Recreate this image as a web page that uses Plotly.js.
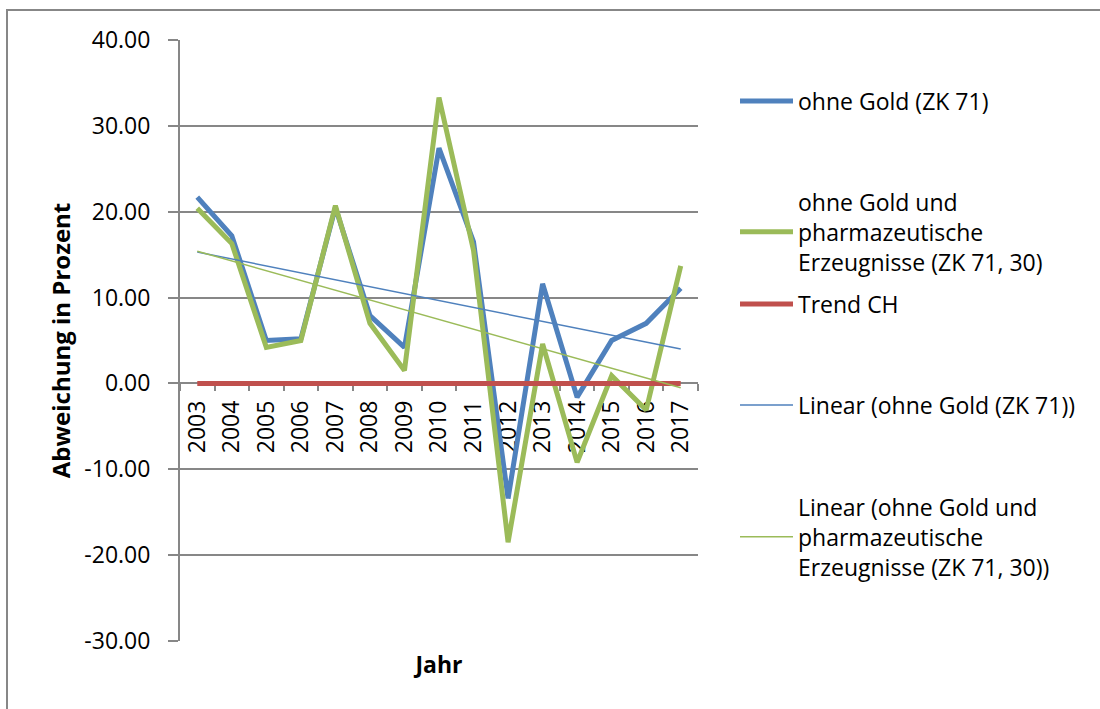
<!DOCTYPE html>
<html>
<head>
<meta charset="utf-8">
<script src="https://cdn.plot.ly/plotly-3.0.1.min.js"></script>
<style>
html,body{margin:0;padding:0;background:#fff;}
#chart{width:1100px;height:709px;}
</style>
</head>
<body>
<div id="chart"></div>
<script>
// ---- data ----
const years = ['2003','2004','2005','2006','2007','2008','2009','2010','2011','2012','2013','2014','2015','2016','2017'];
const ohneGold = [21.7, 17.2, 5.0, 5.2, 20.5, 7.9, 4.2, 27.4, 16.5, -13.4, 11.6, -1.6, 5.0, 7.0, 11.1];
const ohneGoldPharma = [20.4, 16.3, 4.2, 5.0, 20.7, 7.0, 1.5, 33.3, 15.5, -18.5, 4.6, -9.2, 0.9, -3.1, 13.7];
const trendCH = [0, 0, 0, 0, 0, 0, 0, 0, 0, 0, 0, 0, 0, 0, 0];
const trendYears = ['2003', '2017'];
const linearOhneGold = [15.3, 4.0];
const linearOhneGoldPharma = [15.4, -0.5];
const yTickVals = [-30, -20, -10, 0, 10, 20, 30, 40];
const yTickText = ['-30.00', '-20.00', '-10.00', '0.00', '10.00', '20.00', '30.00', '40.00'];

const names = [
  'ohne Gold (ZK 71)',
  'ohne Gold und<br>pharmazeutische<br>Erzeugnisse (ZK 71, 30)',
  'Trend CH',
  'Linear (ohne Gold (ZK 71))',
  'Linear (ohne Gold und<br>pharmazeutische<br>Erzeugnisse (ZK 71, 30))'
];

const BLUE = '#4F81BD', GREEN = '#9BBB59', RED = '#C0504D', GRID = '#878787';
const FONT = 'Open Sans, DejaVu Sans, sans-serif';

const traces = [
  {x: years, y: ohneGold, name: names[0], type: 'scatter', mode: 'lines',
   line: {color: BLUE, width: 5}, legend: 'legend'},
  {x: years, y: ohneGoldPharma, name: names[1], type: 'scatter', mode: 'lines',
   line: {color: GREEN, width: 5}, legend: 'legend2'},
  {x: years, y: trendCH, name: names[2], type: 'scatter', mode: 'lines',
   line: {color: RED, width: 5}, legend: 'legend3'},
  {x: trendYears, y: linearOhneGold, name: names[3], type: 'scatter', mode: 'lines',
   line: {color: BLUE, width: 1.5}, legend: 'legend4'},
  {x: trendYears, y: linearOhneGoldPharma, name: names[4], type: 'scatter', mode: 'lines',
   line: {color: GREEN, width: 1.5}, legend: 'legend5'}
];

// plot area in pixels: x 180..698, y 40..641
const L = 180, R = 698, T = 40, B = 641;
const px = v => (v - L) / (R - L);
const py = v => (B - v) / (B - T);

function leg(yc) {
  return {x: px(735), xanchor: 'left', y: py(yc), yanchor: 'middle',
          bgcolor: 'rgba(0,0,0,0)', borderwidth: 0,
          font: {family: FONT, size: 23, color: '#000'}, itemwidth: 53};
}

const layout = {
  width: 1100, height: 709,
  margin: {l: L, r: 1100 - R, t: T, b: 709 - B},
  paper_bgcolor: '#fff', plot_bgcolor: '#fff',
  font: {family: FONT, color: '#000'},
  showlegend: true,
  legend: leg(101),
  legend2: leg(232),
  legend3: leg(304),
  legend4: leg(405),
  legend5: leg(537),
  xaxis: {
    type: 'category',
    range: [-0.5, years.length - 0.5], autorange: false,
    anchor: 'free', position: 30 / 70,
    layer: 'below traces',
    showgrid: false, zeroline: false,
    showline: true, linecolor: GRID, linewidth: 2,
    ticks: 'outside', tickson: 'boundaries', ticklen: 7, tickcolor: GRID, tickwidth: 2,
    tickangle: -90, tickfont: {family: FONT, size: 23, color: '#000'},
    ticklabelstandoff: 7
  },
  xaxis2: {
    type: 'category', matches: 'x', overlaying: 'x', anchor: 'y', side: 'bottom',
    range: [-0.5, years.length - 0.5], autorange: false,
    showgrid: false, zeroline: false, showline: false, showticklabels: false, ticks: '',
    title: {text: '<b>Jahr</b>', font: {family: FONT, size: 23, color: '#000'}, standoff: 15}
  },
  yaxis: {
    range: [-30, 40],
    tickmode: 'array', tickvals: yTickVals, ticktext: yTickText,
    layer: 'below traces',
    showgrid: true, gridcolor: GRID, gridwidth: 2,
    zeroline: false,
    showline: true, linecolor: GRID, linewidth: 2,
    ticks: 'outside', ticklen: 10, tickcolor: GRID, tickwidth: 2,
    tickfont: {family: FONT, size: 23, color: '#000'},
    ticklabelstandoff: 13,
    title: {text: '<b>Abweichung in Prozent</b>', font: {family: FONT, size: 24, color: '#000'}, standoff: 7}
  },
  shapes: [{
    type: 'rect', xref: 'paper', yref: 'paper',
    x0: px(7), x1: px(1110), y0: py(720), y1: py(10),
    line: {color: GRID, width: 2}, fillcolor: 'rgba(0,0,0,0)', layer: 'above'
  }]
};

// helper (invisible) trace so the bottom axis carrying the "Jahr" title exists
traces.push({x: years, y: trendCH, xaxis: 'x2', type: 'scatter', mode: 'lines',
  line: {width: 0}, hoverinfo: 'skip', showlegend: false, opacity: 0});

Plotly.newPlot('chart', traces, layout, {displayModeBar: false, responsive: false});
</script>
</body>
</html>
